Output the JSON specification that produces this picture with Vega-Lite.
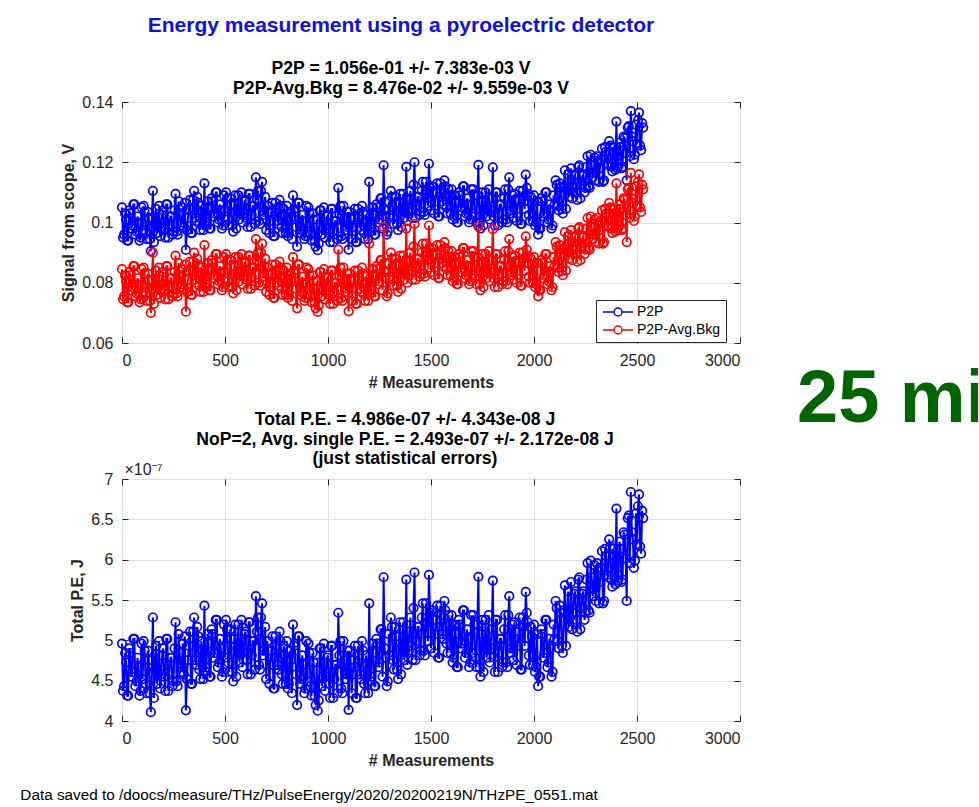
{
  "$schema": "https://vega.github.io/schema/vega-lite/v6.json",
  "background": "white",
  "padding": {"left": 20, "top": 14, "right": 0, "bottom": 2},
  "config": {
    "font": "Liberation Sans",
    "view": {"stroke": "#262626", "strokeWidth": 1},
    "axis": {
      "labelFont": "Liberation Sans", "labelFontSize": 16, "labelColor": "#262626",
      "titleFont": "Liberation Sans", "titleFontSize": 16, "titleFontWeight": "bold", "titleColor": "#262626",
      "tickColor": "#262626", "tickSize": -6, "tickWidth": 1, "labelPadding": 15,
      "domain": false, "gridColor": "#dfdfdf", "gridWidth": 1
    },
    "title": {"font": "Liberation Sans"}
  },
  "datasets": {
    "d": [
      {"m":0,"p":0.1050,"b":0.0845,"e":4.960e-7},
      {"m":10,"p":0.0960,"b":0.0755,"e":4.432e-7},
      {"m":20,"p":0.1010,"b":0.0805,"e":4.725e-7},
      {"m":30,"p":0.0940,"b":0.0735,"e":4.314e-7},
      {"m":40,"p":0.1030,"b":0.0825,"e":4.843e-7},
      {"m":50,"p":0.0990,"b":0.0785,"e":4.608e-7},
      {"m":60,"p":0.1060,"b":0.0855,"e":5.019e-7},
      {"m":70,"p":0.0970,"b":0.0765,"e":4.491e-7},
      {"m":80,"p":0.1000,"b":0.0795,"e":4.667e-7},
      {"m":90,"p":0.0950,"b":0.0745,"e":4.373e-7},
      {"m":100,"p":0.0975,"b":0.0770,"e":4.520e-7},
      {"m":110,"p":0.1035,"b":0.0830,"e":4.872e-7},
      {"m":120,"p":0.0945,"b":0.0740,"e":4.344e-7},
      {"m":130,"p":0.1015,"b":0.0810,"e":4.755e-7},
      {"m":140,"p":0.0905,"b":0.0700,"e":4.109e-7},
      {"m":150,"p":0.1105,"b":0.0900,"e":5.283e-7},
      {"m":160,"p":0.0995,"b":0.0790,"e":4.637e-7},
      {"m":170,"p":0.0965,"b":0.0760,"e":4.461e-7},
      {"m":180,"p":0.1055,"b":0.0850,"e":4.990e-7},
      {"m":190,"p":0.0985,"b":0.0780,"e":4.579e-7},
      {"m":200,"p":0.1040,"b":0.0835,"e":4.901e-7},
      {"m":210,"p":0.0950,"b":0.0745,"e":4.373e-7},
      {"m":220,"p":0.1060,"b":0.0855,"e":5.019e-7},
      {"m":230,"p":0.0990,"b":0.0785,"e":4.608e-7},
      {"m":240,"p":0.1020,"b":0.0815,"e":4.784e-7},
      {"m":250,"p":0.0970,"b":0.0765,"e":4.491e-7},
      {"m":260,"p":0.1095,"b":0.0890,"e":5.224e-7},
      {"m":270,"p":0.0960,"b":0.0755,"e":4.432e-7},
      {"m":280,"p":0.1030,"b":0.0825,"e":4.843e-7},
      {"m":290,"p":0.1000,"b":0.0795,"e":4.667e-7},
      {"m":300,"p":0.0985,"b":0.0780,"e":4.579e-7},
      {"m":310,"p":0.0909,"b":0.0704,"e":4.132e-7},
      {"m":320,"p":0.1015,"b":0.0810,"e":4.755e-7},
      {"m":330,"p":0.1075,"b":0.0870,"e":5.107e-7},
      {"m":340,"p":0.0965,"b":0.0760,"e":4.461e-7},
      {"m":350,"p":0.1105,"b":0.0900,"e":5.283e-7},
      {"m":360,"p":0.1005,"b":0.0800,"e":4.696e-7},
      {"m":370,"p":0.1065,"b":0.0860,"e":5.048e-7},
      {"m":380,"p":0.0975,"b":0.0770,"e":4.520e-7},
      {"m":390,"p":0.1035,"b":0.0830,"e":4.872e-7},
      {"m":400,"p":0.1130,"b":0.0925,"e":5.430e-7},
      {"m":410,"p":0.1000,"b":0.0795,"e":4.667e-7},
      {"m":420,"p":0.1050,"b":0.0845,"e":4.960e-7},
      {"m":430,"p":0.0980,"b":0.0775,"e":4.549e-7},
      {"m":440,"p":0.1070,"b":0.0865,"e":5.078e-7},
      {"m":450,"p":0.1030,"b":0.0825,"e":4.843e-7},
      {"m":460,"p":0.1100,"b":0.0895,"e":5.254e-7},
      {"m":470,"p":0.1010,"b":0.0805,"e":4.725e-7},
      {"m":480,"p":0.1040,"b":0.0835,"e":4.901e-7},
      {"m":490,"p":0.0990,"b":0.0785,"e":4.608e-7},
      {"m":500,"p":0.1020,"b":0.0815,"e":4.784e-7},
      {"m":510,"p":0.1080,"b":0.0875,"e":5.136e-7},
      {"m":520,"p":0.0990,"b":0.0785,"e":4.608e-7},
      {"m":530,"p":0.1060,"b":0.0855,"e":5.019e-7},
      {"m":540,"p":0.0970,"b":0.0765,"e":4.491e-7},
      {"m":550,"p":0.1090,"b":0.0885,"e":5.195e-7},
      {"m":560,"p":0.1040,"b":0.0835,"e":4.901e-7},
      {"m":570,"p":0.1010,"b":0.0805,"e":4.725e-7},
      {"m":580,"p":0.1100,"b":0.0895,"e":5.254e-7},
      {"m":590,"p":0.1030,"b":0.0825,"e":4.843e-7},
      {"m":600,"p":0.1075,"b":0.0870,"e":5.107e-7},
      {"m":610,"p":0.0985,"b":0.0780,"e":4.579e-7},
      {"m":620,"p":0.1095,"b":0.0890,"e":5.224e-7},
      {"m":630,"p":0.1025,"b":0.0820,"e":4.813e-7},
      {"m":640,"p":0.1055,"b":0.0850,"e":4.990e-7},
      {"m":650,"p":0.1150,"b":0.0945,"e":5.547e-7},
      {"m":660,"p":0.1105,"b":0.0900,"e":5.283e-7},
      {"m":670,"p":0.0995,"b":0.0790,"e":4.637e-7},
      {"m":680,"p":0.1135,"b":0.0930,"e":5.459e-7},
      {"m":690,"p":0.1035,"b":0.0830,"e":4.872e-7},
      {"m":700,"p":0.0975,"b":0.0770,"e":4.520e-7},
      {"m":710,"p":0.1035,"b":0.0830,"e":4.872e-7},
      {"m":720,"p":0.1005,"b":0.0800,"e":4.696e-7},
      {"m":730,"p":0.1065,"b":0.0860,"e":5.048e-7},
      {"m":740,"p":0.0955,"b":0.0750,"e":4.403e-7},
      {"m":750,"p":0.1045,"b":0.0840,"e":4.931e-7},
      {"m":760,"p":0.0995,"b":0.0790,"e":4.637e-7},
      {"m":770,"p":0.1055,"b":0.0850,"e":4.990e-7},
      {"m":780,"p":0.0965,"b":0.0760,"e":4.461e-7},
      {"m":790,"p":0.1025,"b":0.0820,"e":4.813e-7},
      {"m":800,"p":0.1055,"b":0.0850,"e":4.990e-7},
      {"m":810,"p":0.0965,"b":0.0760,"e":4.461e-7},
      {"m":820,"p":0.1015,"b":0.0810,"e":4.755e-7},
      {"m":830,"p":0.1090,"b":0.0885,"e":5.195e-7},
      {"m":840,"p":0.1035,"b":0.0830,"e":4.872e-7},
      {"m":850,"p":0.0920,"b":0.0715,"e":4.197e-7},
      {"m":860,"p":0.1065,"b":0.0860,"e":5.048e-7},
      {"m":870,"p":0.0975,"b":0.0770,"e":4.520e-7},
      {"m":880,"p":0.1005,"b":0.0800,"e":4.696e-7},
      {"m":890,"p":0.0955,"b":0.0750,"e":4.403e-7},
      {"m":900,"p":0.0970,"b":0.0765,"e":4.491e-7},
      {"m":910,"p":0.1030,"b":0.0825,"e":4.843e-7},
      {"m":920,"p":0.0940,"b":0.0735,"e":4.314e-7},
      {"m":930,"p":0.1010,"b":0.0805,"e":4.725e-7},
      {"m":940,"p":0.0920,"b":0.0715,"e":4.197e-7},
      {"m":950,"p":0.0908,"b":0.0703,"e":4.127e-7},
      {"m":960,"p":0.1040,"b":0.0835,"e":4.901e-7},
      {"m":970,"p":0.0960,"b":0.0755,"e":4.432e-7},
      {"m":980,"p":0.1050,"b":0.0845,"e":4.960e-7},
      {"m":990,"p":0.0980,"b":0.0775,"e":4.549e-7},
      {"m":1000,"p":0.1025,"b":0.0820,"e":4.813e-7},
      {"m":1010,"p":0.0935,"b":0.0730,"e":4.285e-7},
      {"m":1020,"p":0.1045,"b":0.0840,"e":4.931e-7},
      {"m":1030,"p":0.0975,"b":0.0770,"e":4.520e-7},
      {"m":1040,"p":0.1005,"b":0.0800,"e":4.696e-7},
      {"m":1050,"p":0.1115,"b":0.0910,"e":5.342e-7},
      {"m":1060,"p":0.1055,"b":0.0850,"e":4.990e-7},
      {"m":1070,"p":0.0945,"b":0.0740,"e":4.344e-7},
      {"m":1080,"p":0.1015,"b":0.0810,"e":4.755e-7},
      {"m":1090,"p":0.0985,"b":0.0780,"e":4.579e-7},
      {"m":1100,"p":0.0910,"b":0.0705,"e":4.138e-7},
      {"m":1110,"p":0.1015,"b":0.0810,"e":4.755e-7},
      {"m":1120,"p":0.0985,"b":0.0780,"e":4.579e-7},
      {"m":1130,"p":0.1045,"b":0.0840,"e":4.931e-7},
      {"m":1140,"p":0.0935,"b":0.0730,"e":4.285e-7},
      {"m":1150,"p":0.1025,"b":0.0820,"e":4.813e-7},
      {"m":1160,"p":0.0975,"b":0.0770,"e":4.520e-7},
      {"m":1170,"p":0.1035,"b":0.0830,"e":4.872e-7},
      {"m":1180,"p":0.0945,"b":0.0740,"e":4.344e-7},
      {"m":1190,"p":0.1005,"b":0.0800,"e":4.696e-7},
      {"m":1200,"p":0.1135,"b":0.0930,"e":5.459e-7},
      {"m":1210,"p":0.0980,"b":0.0775,"e":4.549e-7},
      {"m":1220,"p":0.1030,"b":0.0825,"e":4.843e-7},
      {"m":1230,"p":0.0960,"b":0.0755,"e":4.432e-7},
      {"m":1240,"p":0.1050,"b":0.0845,"e":4.960e-7},
      {"m":1250,"p":0.1010,"b":0.0805,"e":4.725e-7},
      {"m":1260,"p":0.1080,"b":0.0875,"e":5.136e-7},
      {"m":1270,"p":0.1190,"b":0.0985,"e":5.782e-7},
      {"m":1280,"p":0.1020,"b":0.0815,"e":4.784e-7},
      {"m":1290,"p":0.0970,"b":0.0765,"e":4.491e-7},
      {"m":1300,"p":0.1025,"b":0.0820,"e":4.813e-7},
      {"m":1310,"p":0.1085,"b":0.0880,"e":5.166e-7},
      {"m":1320,"p":0.0995,"b":0.0790,"e":4.637e-7},
      {"m":1330,"p":0.1065,"b":0.0860,"e":5.048e-7},
      {"m":1340,"p":0.0975,"b":0.0770,"e":4.520e-7},
      {"m":1350,"p":0.1095,"b":0.0890,"e":5.224e-7},
      {"m":1360,"p":0.1045,"b":0.0840,"e":4.931e-7},
      {"m":1370,"p":0.1015,"b":0.0810,"e":4.755e-7},
      {"m":1380,"p":0.1185,"b":0.0980,"e":5.753e-7},
      {"m":1390,"p":0.1035,"b":0.0830,"e":4.872e-7},
      {"m":1400,"p":0.1105,"b":0.0900,"e":5.283e-7},
      {"m":1410,"p":0.1015,"b":0.0810,"e":4.755e-7},
      {"m":1420,"p":0.1200,"b":0.0995,"e":5.841e-7},
      {"m":1430,"p":0.1055,"b":0.0850,"e":4.990e-7},
      {"m":1440,"p":0.1085,"b":0.0880,"e":5.166e-7},
      {"m":1450,"p":0.1035,"b":0.0830,"e":4.872e-7},
      {"m":1460,"p":0.1135,"b":0.0930,"e":5.459e-7},
      {"m":1470,"p":0.1025,"b":0.0820,"e":4.813e-7},
      {"m":1480,"p":0.1095,"b":0.0890,"e":5.224e-7},
      {"m":1490,"p":0.1195,"b":0.0990,"e":5.811e-7},
      {"m":1500,"p":0.1040,"b":0.0835,"e":4.901e-7},
      {"m":1510,"p":0.1100,"b":0.0895,"e":5.254e-7},
      {"m":1520,"p":0.1070,"b":0.0865,"e":5.078e-7},
      {"m":1530,"p":0.1130,"b":0.0925,"e":5.430e-7},
      {"m":1540,"p":0.1020,"b":0.0815,"e":4.784e-7},
      {"m":1550,"p":0.1110,"b":0.0905,"e":5.312e-7},
      {"m":1560,"p":0.1060,"b":0.0855,"e":5.019e-7},
      {"m":1570,"p":0.1120,"b":0.0915,"e":5.371e-7},
      {"m":1580,"p":0.1030,"b":0.0825,"e":4.843e-7},
      {"m":1590,"p":0.1090,"b":0.0885,"e":5.195e-7},
      {"m":1600,"p":0.1110,"b":0.0905,"e":5.312e-7},
      {"m":1610,"p":0.1020,"b":0.0815,"e":4.784e-7},
      {"m":1620,"p":0.1070,"b":0.0865,"e":5.078e-7},
      {"m":1630,"p":0.1000,"b":0.0795,"e":4.667e-7},
      {"m":1640,"p":0.1090,"b":0.0885,"e":5.195e-7},
      {"m":1650,"p":0.1050,"b":0.0845,"e":4.960e-7},
      {"m":1660,"p":0.1120,"b":0.0915,"e":5.371e-7},
      {"m":1670,"p":0.1030,"b":0.0825,"e":4.843e-7},
      {"m":1680,"p":0.1060,"b":0.0855,"e":5.019e-7},
      {"m":1690,"p":0.1010,"b":0.0805,"e":4.725e-7},
      {"m":1700,"p":0.1030,"b":0.0825,"e":4.843e-7},
      {"m":1710,"p":0.1090,"b":0.0885,"e":5.195e-7},
      {"m":1720,"p":0.1000,"b":0.0795,"e":4.667e-7},
      {"m":1730,"p":0.1191,"b":0.0986,"e":5.788e-7},
      {"m":1740,"p":0.0980,"b":0.0775,"e":4.549e-7},
      {"m":1750,"p":0.1100,"b":0.0895,"e":5.254e-7},
      {"m":1760,"p":0.1050,"b":0.0845,"e":4.960e-7},
      {"m":1770,"p":0.1020,"b":0.0815,"e":4.784e-7},
      {"m":1780,"p":0.1110,"b":0.0905,"e":5.312e-7},
      {"m":1790,"p":0.1040,"b":0.0835,"e":4.901e-7},
      {"m":1800,"p":0.1183,"b":0.0978,"e":5.741e-7},
      {"m":1810,"p":0.0990,"b":0.0785,"e":4.608e-7},
      {"m":1820,"p":0.1100,"b":0.0895,"e":5.254e-7},
      {"m":1830,"p":0.1030,"b":0.0825,"e":4.843e-7},
      {"m":1840,"p":0.1060,"b":0.0855,"e":5.019e-7},
      {"m":1850,"p":0.1010,"b":0.0805,"e":4.725e-7},
      {"m":1860,"p":0.1110,"b":0.0905,"e":5.312e-7},
      {"m":1870,"p":0.1000,"b":0.0795,"e":4.667e-7},
      {"m":1880,"p":0.1150,"b":0.0945,"e":5.547e-7},
      {"m":1890,"p":0.1040,"b":0.0835,"e":4.901e-7},
      {"m":1900,"p":0.1015,"b":0.0810,"e":4.755e-7},
      {"m":1910,"p":0.1075,"b":0.0870,"e":5.107e-7},
      {"m":1920,"p":0.1045,"b":0.0840,"e":4.931e-7},
      {"m":1930,"p":0.1105,"b":0.0900,"e":5.283e-7},
      {"m":1940,"p":0.0995,"b":0.0790,"e":4.637e-7},
      {"m":1950,"p":0.1085,"b":0.0880,"e":5.166e-7},
      {"m":1960,"p":0.1159,"b":0.0954,"e":5.600e-7},
      {"m":1970,"p":0.1095,"b":0.0890,"e":5.224e-7},
      {"m":1980,"p":0.1005,"b":0.0800,"e":4.696e-7},
      {"m":1990,"p":0.1065,"b":0.0860,"e":5.048e-7},
      {"m":2000,"p":0.1090,"b":0.0885,"e":5.195e-7},
      {"m":2010,"p":0.1000,"b":0.0795,"e":4.667e-7},
      {"m":2020,"p":0.0960,"b":0.0755,"e":4.432e-7},
      {"m":2030,"p":0.0980,"b":0.0775,"e":4.549e-7},
      {"m":2040,"p":0.1070,"b":0.0865,"e":5.078e-7},
      {"m":2050,"p":0.1030,"b":0.0825,"e":4.843e-7},
      {"m":2060,"p":0.1100,"b":0.0895,"e":5.254e-7},
      {"m":2070,"p":0.1010,"b":0.0805,"e":4.725e-7},
      {"m":2080,"p":0.1040,"b":0.0835,"e":4.901e-7},
      {"m":2090,"p":0.0990,"b":0.0785,"e":4.608e-7},
      {"m":2100,"p":0.1060,"b":0.0855,"e":5.019e-7},
      {"m":2110,"p":0.1125,"b":0.0920,"e":5.400e-7},
      {"m":2120,"p":0.1040,"b":0.0835,"e":4.901e-7},
      {"m":2130,"p":0.1115,"b":0.0910,"e":5.342e-7},
      {"m":2140,"p":0.1030,"b":0.0825,"e":4.843e-7},
      {"m":2150,"p":0.1173,"b":0.0968,"e":5.682e-7},
      {"m":2160,"p":0.1110,"b":0.0905,"e":5.312e-7},
      {"m":2170,"p":0.1085,"b":0.0880,"e":5.166e-7},
      {"m":2180,"p":0.1180,"b":0.0975,"e":5.723e-7},
      {"m":2190,"p":0.1115,"b":0.0910,"e":5.342e-7},
      {"m":2200,"p":0.1160,"b":0.0955,"e":5.606e-7},
      {"m":2210,"p":0.1075,"b":0.0870,"e":5.107e-7},
      {"m":2220,"p":0.1190,"b":0.0985,"e":5.782e-7},
      {"m":2230,"p":0.1125,"b":0.0920,"e":5.400e-7},
      {"m":2240,"p":0.1160,"b":0.0955,"e":5.606e-7},
      {"m":2250,"p":0.1115,"b":0.0910,"e":5.342e-7},
      {"m":2260,"p":0.1220,"b":0.1015,"e":5.958e-7},
      {"m":2270,"p":0.1115,"b":0.0910,"e":5.342e-7},
      {"m":2280,"p":0.1190,"b":0.0985,"e":5.782e-7},
      {"m":2290,"p":0.1165,"b":0.0960,"e":5.635e-7},
      {"m":2300,"p":0.1140,"b":0.0935,"e":5.488e-7},
      {"m":2310,"p":0.1205,"b":0.1000,"e":5.870e-7},
      {"m":2320,"p":0.1180,"b":0.0975,"e":5.723e-7},
      {"m":2330,"p":0.1245,"b":0.1040,"e":6.105e-7},
      {"m":2340,"p":0.1140,"b":0.0935,"e":5.488e-7},
      {"m":2350,"p":0.1235,"b":0.1030,"e":6.046e-7},
      {"m":2360,"p":0.1190,"b":0.0985,"e":5.782e-7},
      {"m":2370,"p":0.1255,"b":0.1050,"e":6.164e-7},
      {"m":2380,"p":0.1170,"b":0.0965,"e":5.665e-7},
      {"m":2390,"p":0.1235,"b":0.1030,"e":6.046e-7},
      {"m":2400,"p":0.1335,"b":0.1130,"e":6.633e-7},
      {"m":2410,"p":0.1195,"b":0.0990,"e":5.811e-7},
      {"m":2420,"p":0.1250,"b":0.1045,"e":6.134e-7},
      {"m":2430,"p":0.1185,"b":0.0980,"e":5.753e-7},
      {"m":2440,"p":0.1280,"b":0.1075,"e":6.310e-7},
      {"m":2450,"p":0.1140,"b":0.0935,"e":5.488e-7},
      {"m":2460,"p":0.1320,"b":0.1115,"e":6.545e-7},
      {"m":2470,"p":0.1370,"b":0.1165,"e":6.839e-7},
      {"m":2480,"p":0.1270,"b":0.1065,"e":6.252e-7},
      {"m":2490,"p":0.1225,"b":0.1020,"e":5.987e-7},
      {"m":2500,"p":0.1260,"b":0.1055,"e":6.193e-7},
      {"m":2510,"p":0.1365,"b":0.1160,"e":6.809e-7},
      {"m":2520,"p":0.1240,"b":0.1035,"e":6.075e-7},
      {"m":2530,"p":0.1315,"b":0.1110,"e":6.516e-7},
      {"m":5,"p":0.0950,"b":0.0745,"e":4.373e-7},
      {"m":15,"p":0.1030,"b":0.0825,"e":4.843e-7},
      {"m":25,"p":0.0940,"b":0.0735,"e":4.314e-7},
      {"m":35,"p":0.1040,"b":0.0835,"e":4.901e-7},
      {"m":45,"p":0.0980,"b":0.0775,"e":4.549e-7},
      {"m":55,"p":0.1060,"b":0.0855,"e":5.019e-7},
      {"m":65,"p":0.0960,"b":0.0755,"e":4.432e-7},
      {"m":75,"p":0.1020,"b":0.0815,"e":4.784e-7},
      {"m":85,"p":0.0940,"b":0.0735,"e":4.314e-7},
      {"m":95,"p":0.1050,"b":0.0845,"e":4.960e-7},
      {"m":105,"p":0.1055,"b":0.0850,"e":4.990e-7},
      {"m":115,"p":0.0965,"b":0.0760,"e":4.461e-7},
      {"m":125,"p":0.1035,"b":0.0830,"e":4.872e-7},
      {"m":135,"p":0.0945,"b":0.0740,"e":4.344e-7},
      {"m":145,"p":0.1015,"b":0.0810,"e":4.755e-7},
      {"m":155,"p":0.0935,"b":0.0730,"e":4.285e-7},
      {"m":165,"p":0.1045,"b":0.0840,"e":4.931e-7},
      {"m":175,"p":0.0985,"b":0.0780,"e":4.579e-7},
      {"m":185,"p":0.0955,"b":0.0750,"e":4.403e-7},
      {"m":195,"p":0.1025,"b":0.0820,"e":4.813e-7},
      {"m":205,"p":0.0980,"b":0.0775,"e":4.549e-7},
      {"m":215,"p":0.1060,"b":0.0855,"e":5.019e-7},
      {"m":225,"p":0.0950,"b":0.0745,"e":4.373e-7},
      {"m":235,"p":0.1020,"b":0.0815,"e":4.784e-7},
      {"m":245,"p":0.0960,"b":0.0755,"e":4.432e-7},
      {"m":255,"p":0.1040,"b":0.0835,"e":4.901e-7},
      {"m":265,"p":0.0970,"b":0.0765,"e":4.491e-7},
      {"m":275,"p":0.1070,"b":0.0865,"e":5.078e-7},
      {"m":285,"p":0.0990,"b":0.0785,"e":4.608e-7},
      {"m":295,"p":0.1050,"b":0.0845,"e":4.960e-7},
      {"m":305,"p":0.1065,"b":0.0860,"e":5.048e-7},
      {"m":315,"p":0.0975,"b":0.0770,"e":4.520e-7},
      {"m":325,"p":0.1045,"b":0.0840,"e":4.931e-7},
      {"m":335,"p":0.0965,"b":0.0760,"e":4.461e-7},
      {"m":345,"p":0.1075,"b":0.0870,"e":5.107e-7},
      {"m":355,"p":0.1015,"b":0.0810,"e":4.755e-7},
      {"m":365,"p":0.1085,"b":0.0880,"e":5.166e-7},
      {"m":375,"p":0.0995,"b":0.0790,"e":4.637e-7},
      {"m":385,"p":0.1055,"b":0.0850,"e":4.990e-7},
      {"m":395,"p":0.0975,"b":0.0770,"e":4.520e-7},
      {"m":405,"p":0.0990,"b":0.0785,"e":4.608e-7},
      {"m":415,"p":0.1070,"b":0.0865,"e":5.078e-7},
      {"m":425,"p":0.0980,"b":0.0775,"e":4.549e-7},
      {"m":435,"p":0.1080,"b":0.0875,"e":5.136e-7},
      {"m":445,"p":0.1020,"b":0.0815,"e":4.784e-7},
      {"m":455,"p":0.1100,"b":0.0895,"e":5.254e-7},
      {"m":465,"p":0.1000,"b":0.0795,"e":4.667e-7},
      {"m":475,"p":0.1060,"b":0.0855,"e":5.019e-7},
      {"m":485,"p":0.0980,"b":0.0775,"e":4.549e-7},
      {"m":495,"p":0.1090,"b":0.0885,"e":5.195e-7},
      {"m":505,"p":0.1100,"b":0.0895,"e":5.254e-7},
      {"m":515,"p":0.1010,"b":0.0805,"e":4.725e-7},
      {"m":525,"p":0.1080,"b":0.0875,"e":5.136e-7},
      {"m":535,"p":0.0990,"b":0.0785,"e":4.608e-7},
      {"m":545,"p":0.1060,"b":0.0855,"e":5.019e-7},
      {"m":555,"p":0.0980,"b":0.0775,"e":4.549e-7},
      {"m":565,"p":0.1090,"b":0.0885,"e":5.195e-7},
      {"m":575,"p":0.1030,"b":0.0825,"e":4.843e-7},
      {"m":585,"p":0.1000,"b":0.0795,"e":4.667e-7},
      {"m":595,"p":0.1070,"b":0.0865,"e":5.078e-7},
      {"m":605,"p":0.1015,"b":0.0810,"e":4.755e-7},
      {"m":615,"p":0.1095,"b":0.0890,"e":5.224e-7},
      {"m":625,"p":0.0985,"b":0.0780,"e":4.579e-7},
      {"m":635,"p":0.1055,"b":0.0850,"e":4.990e-7},
      {"m":645,"p":0.0995,"b":0.0790,"e":4.637e-7},
      {"m":655,"p":0.1075,"b":0.0870,"e":5.107e-7},
      {"m":665,"p":0.1005,"b":0.0800,"e":4.696e-7},
      {"m":675,"p":0.1105,"b":0.0900,"e":5.283e-7},
      {"m":685,"p":0.1025,"b":0.0820,"e":4.813e-7},
      {"m":695,"p":0.1085,"b":0.0880,"e":5.166e-7},
      {"m":705,"p":0.1055,"b":0.0850,"e":4.990e-7},
      {"m":715,"p":0.0965,"b":0.0760,"e":4.461e-7},
      {"m":725,"p":0.1035,"b":0.0830,"e":4.872e-7},
      {"m":735,"p":0.0955,"b":0.0750,"e":4.403e-7},
      {"m":745,"p":0.1065,"b":0.0860,"e":5.048e-7},
      {"m":755,"p":0.1005,"b":0.0800,"e":4.696e-7},
      {"m":765,"p":0.1075,"b":0.0870,"e":5.107e-7},
      {"m":775,"p":0.0985,"b":0.0780,"e":4.579e-7},
      {"m":785,"p":0.1045,"b":0.0840,"e":4.931e-7},
      {"m":795,"p":0.0965,"b":0.0760,"e":4.461e-7},
      {"m":805,"p":0.0955,"b":0.0750,"e":4.403e-7},
      {"m":815,"p":0.1035,"b":0.0830,"e":4.872e-7},
      {"m":825,"p":0.0945,"b":0.0740,"e":4.344e-7},
      {"m":835,"p":0.1045,"b":0.0840,"e":4.931e-7},
      {"m":845,"p":0.0985,"b":0.0780,"e":4.579e-7},
      {"m":855,"p":0.1065,"b":0.0860,"e":5.048e-7},
      {"m":865,"p":0.0965,"b":0.0760,"e":4.461e-7},
      {"m":875,"p":0.1025,"b":0.0820,"e":4.813e-7},
      {"m":885,"p":0.0945,"b":0.0740,"e":4.344e-7},
      {"m":895,"p":0.1055,"b":0.0850,"e":4.990e-7},
      {"m":905,"p":0.1050,"b":0.0845,"e":4.960e-7},
      {"m":915,"p":0.0960,"b":0.0755,"e":4.432e-7},
      {"m":925,"p":0.1030,"b":0.0825,"e":4.843e-7},
      {"m":935,"p":0.0940,"b":0.0735,"e":4.314e-7},
      {"m":945,"p":0.1010,"b":0.0805,"e":4.725e-7},
      {"m":955,"p":0.0930,"b":0.0725,"e":4.256e-7},
      {"m":965,"p":0.1040,"b":0.0835,"e":4.901e-7},
      {"m":975,"p":0.0980,"b":0.0775,"e":4.549e-7},
      {"m":985,"p":0.0950,"b":0.0745,"e":4.373e-7},
      {"m":995,"p":0.1020,"b":0.0815,"e":4.784e-7},
      {"m":1005,"p":0.0965,"b":0.0760,"e":4.461e-7},
      {"m":1015,"p":0.1045,"b":0.0840,"e":4.931e-7},
      {"m":1025,"p":0.0935,"b":0.0730,"e":4.285e-7},
      {"m":1035,"p":0.1005,"b":0.0800,"e":4.696e-7},
      {"m":1045,"p":0.0945,"b":0.0740,"e":4.344e-7},
      {"m":1055,"p":0.1025,"b":0.0820,"e":4.813e-7},
      {"m":1065,"p":0.0955,"b":0.0750,"e":4.403e-7},
      {"m":1075,"p":0.1055,"b":0.0850,"e":4.990e-7},
      {"m":1085,"p":0.0975,"b":0.0770,"e":4.520e-7},
      {"m":1095,"p":0.1035,"b":0.0830,"e":4.872e-7},
      {"m":1105,"p":0.1035,"b":0.0830,"e":4.872e-7},
      {"m":1115,"p":0.0945,"b":0.0740,"e":4.344e-7},
      {"m":1125,"p":0.1015,"b":0.0810,"e":4.755e-7},
      {"m":1135,"p":0.0935,"b":0.0730,"e":4.285e-7},
      {"m":1145,"p":0.1045,"b":0.0840,"e":4.931e-7},
      {"m":1155,"p":0.0985,"b":0.0780,"e":4.579e-7},
      {"m":1165,"p":0.1055,"b":0.0850,"e":4.990e-7},
      {"m":1175,"p":0.0965,"b":0.0760,"e":4.461e-7},
      {"m":1185,"p":0.1025,"b":0.0820,"e":4.813e-7},
      {"m":1195,"p":0.0945,"b":0.0740,"e":4.344e-7},
      {"m":1205,"p":0.0970,"b":0.0765,"e":4.491e-7},
      {"m":1215,"p":0.1050,"b":0.0845,"e":4.960e-7},
      {"m":1225,"p":0.0960,"b":0.0755,"e":4.432e-7},
      {"m":1235,"p":0.1060,"b":0.0855,"e":5.019e-7},
      {"m":1245,"p":0.1000,"b":0.0795,"e":4.667e-7},
      {"m":1255,"p":0.1080,"b":0.0875,"e":5.136e-7},
      {"m":1265,"p":0.0980,"b":0.0775,"e":4.549e-7},
      {"m":1275,"p":0.1040,"b":0.0835,"e":4.901e-7},
      {"m":1285,"p":0.0960,"b":0.0755,"e":4.432e-7},
      {"m":1295,"p":0.1070,"b":0.0865,"e":5.078e-7},
      {"m":1305,"p":0.1105,"b":0.0900,"e":5.283e-7},
      {"m":1315,"p":0.1015,"b":0.0810,"e":4.755e-7},
      {"m":1325,"p":0.1085,"b":0.0880,"e":5.166e-7},
      {"m":1335,"p":0.0995,"b":0.0790,"e":4.637e-7},
      {"m":1345,"p":0.1065,"b":0.0860,"e":5.048e-7},
      {"m":1355,"p":0.0985,"b":0.0780,"e":4.579e-7},
      {"m":1365,"p":0.1095,"b":0.0890,"e":5.224e-7},
      {"m":1375,"p":0.1035,"b":0.0830,"e":4.872e-7},
      {"m":1385,"p":0.1005,"b":0.0800,"e":4.696e-7},
      {"m":1395,"p":0.1075,"b":0.0870,"e":5.107e-7},
      {"m":1405,"p":0.1045,"b":0.0840,"e":4.931e-7},
      {"m":1415,"p":0.1125,"b":0.0920,"e":5.400e-7},
      {"m":1425,"p":0.1015,"b":0.0810,"e":4.755e-7},
      {"m":1435,"p":0.1085,"b":0.0880,"e":5.166e-7},
      {"m":1445,"p":0.1025,"b":0.0820,"e":4.813e-7},
      {"m":1455,"p":0.1105,"b":0.0900,"e":5.283e-7},
      {"m":1465,"p":0.1035,"b":0.0830,"e":4.872e-7},
      {"m":1475,"p":0.1135,"b":0.0930,"e":5.459e-7},
      {"m":1485,"p":0.1055,"b":0.0850,"e":4.990e-7},
      {"m":1495,"p":0.1115,"b":0.0910,"e":5.342e-7},
      {"m":1505,"p":0.1120,"b":0.0915,"e":5.371e-7},
      {"m":1515,"p":0.1030,"b":0.0825,"e":4.843e-7},
      {"m":1525,"p":0.1100,"b":0.0895,"e":5.254e-7},
      {"m":1535,"p":0.1020,"b":0.0815,"e":4.784e-7},
      {"m":1545,"p":0.1130,"b":0.0925,"e":5.430e-7},
      {"m":1555,"p":0.1070,"b":0.0865,"e":5.078e-7},
      {"m":1565,"p":0.1140,"b":0.0935,"e":5.488e-7},
      {"m":1575,"p":0.1050,"b":0.0845,"e":4.960e-7},
      {"m":1585,"p":0.1110,"b":0.0905,"e":5.312e-7},
      {"m":1595,"p":0.1030,"b":0.0825,"e":4.843e-7},
      {"m":1605,"p":0.1010,"b":0.0805,"e":4.725e-7},
      {"m":1615,"p":0.1090,"b":0.0885,"e":5.195e-7},
      {"m":1625,"p":0.1000,"b":0.0795,"e":4.667e-7},
      {"m":1635,"p":0.1100,"b":0.0895,"e":5.254e-7},
      {"m":1645,"p":0.1040,"b":0.0835,"e":4.901e-7},
      {"m":1655,"p":0.1120,"b":0.0915,"e":5.371e-7},
      {"m":1665,"p":0.1020,"b":0.0815,"e":4.784e-7},
      {"m":1675,"p":0.1080,"b":0.0875,"e":5.136e-7},
      {"m":1685,"p":0.1000,"b":0.0795,"e":4.667e-7},
      {"m":1695,"p":0.1110,"b":0.0905,"e":5.312e-7},
      {"m":1705,"p":0.1110,"b":0.0905,"e":5.312e-7},
      {"m":1715,"p":0.1020,"b":0.0815,"e":4.784e-7},
      {"m":1725,"p":0.1090,"b":0.0885,"e":5.195e-7},
      {"m":1735,"p":0.1000,"b":0.0795,"e":4.667e-7},
      {"m":1745,"p":0.1070,"b":0.0865,"e":5.078e-7},
      {"m":1755,"p":0.0990,"b":0.0785,"e":4.608e-7},
      {"m":1765,"p":0.1100,"b":0.0895,"e":5.254e-7},
      {"m":1775,"p":0.1040,"b":0.0835,"e":4.901e-7},
      {"m":1785,"p":0.1010,"b":0.0805,"e":4.725e-7},
      {"m":1795,"p":0.1080,"b":0.0875,"e":5.136e-7},
      {"m":1805,"p":0.1020,"b":0.0815,"e":4.784e-7},
      {"m":1815,"p":0.1100,"b":0.0895,"e":5.254e-7},
      {"m":1825,"p":0.0990,"b":0.0785,"e":4.608e-7},
      {"m":1835,"p":0.1060,"b":0.0855,"e":5.019e-7},
      {"m":1845,"p":0.1000,"b":0.0795,"e":4.667e-7},
      {"m":1855,"p":0.1080,"b":0.0875,"e":5.136e-7},
      {"m":1865,"p":0.1010,"b":0.0805,"e":4.725e-7},
      {"m":1875,"p":0.1110,"b":0.0905,"e":5.312e-7},
      {"m":1885,"p":0.1030,"b":0.0825,"e":4.843e-7},
      {"m":1895,"p":0.1090,"b":0.0885,"e":5.195e-7},
      {"m":1905,"p":0.1095,"b":0.0890,"e":5.224e-7},
      {"m":1915,"p":0.1005,"b":0.0800,"e":4.696e-7},
      {"m":1925,"p":0.1075,"b":0.0870,"e":5.107e-7},
      {"m":1935,"p":0.0995,"b":0.0790,"e":4.637e-7},
      {"m":1945,"p":0.1105,"b":0.0900,"e":5.283e-7},
      {"m":1955,"p":0.1045,"b":0.0840,"e":4.931e-7},
      {"m":1965,"p":0.1115,"b":0.0910,"e":5.342e-7},
      {"m":1975,"p":0.1025,"b":0.0820,"e":4.813e-7},
      {"m":1985,"p":0.1085,"b":0.0880,"e":5.166e-7},
      {"m":1995,"p":0.1005,"b":0.0800,"e":4.696e-7},
      {"m":2005,"p":0.0990,"b":0.0785,"e":4.608e-7},
      {"m":2015,"p":0.1070,"b":0.0865,"e":5.078e-7},
      {"m":2025,"p":0.0980,"b":0.0775,"e":4.549e-7},
      {"m":2035,"p":0.1080,"b":0.0875,"e":5.136e-7},
      {"m":2045,"p":0.1020,"b":0.0815,"e":4.784e-7},
      {"m":2055,"p":0.1100,"b":0.0895,"e":5.254e-7},
      {"m":2065,"p":0.1000,"b":0.0795,"e":4.667e-7},
      {"m":2075,"p":0.1060,"b":0.0855,"e":5.019e-7},
      {"m":2085,"p":0.0980,"b":0.0775,"e":4.549e-7},
      {"m":2095,"p":0.1090,"b":0.0885,"e":5.195e-7},
      {"m":2105,"p":0.1140,"b":0.0935,"e":5.488e-7},
      {"m":2115,"p":0.1055,"b":0.0850,"e":4.990e-7},
      {"m":2125,"p":0.1130,"b":0.0925,"e":5.430e-7},
      {"m":2135,"p":0.1045,"b":0.0840,"e":4.931e-7},
      {"m":2145,"p":0.1120,"b":0.0915,"e":5.371e-7},
      {"m":2155,"p":0.1045,"b":0.0840,"e":4.931e-7},
      {"m":2165,"p":0.1160,"b":0.0955,"e":5.606e-7},
      {"m":2175,"p":0.1105,"b":0.0900,"e":5.283e-7},
      {"m":2185,"p":0.1080,"b":0.0875,"e":5.136e-7},
      {"m":2195,"p":0.1155,"b":0.0950,"e":5.577e-7},
      {"m":2205,"p":0.1100,"b":0.0895,"e":5.254e-7},
      {"m":2215,"p":0.1185,"b":0.0980,"e":5.753e-7},
      {"m":2225,"p":0.1080,"b":0.0875,"e":5.136e-7},
      {"m":2235,"p":0.1155,"b":0.0950,"e":5.577e-7},
      {"m":2245,"p":0.1100,"b":0.0895,"e":5.254e-7},
      {"m":2255,"p":0.1185,"b":0.0980,"e":5.753e-7},
      {"m":2265,"p":0.1120,"b":0.0915,"e":5.371e-7},
      {"m":2275,"p":0.1225,"b":0.1020,"e":5.987e-7},
      {"m":2285,"p":0.1150,"b":0.0945,"e":5.547e-7},
      {"m":2295,"p":0.1215,"b":0.1010,"e":5.929e-7},
      {"m":2305,"p":0.1220,"b":0.1015,"e":5.958e-7},
      {"m":2315,"p":0.1135,"b":0.0930,"e":5.459e-7},
      {"m":2325,"p":0.1210,"b":0.1005,"e":5.899e-7},
      {"m":2335,"p":0.1135,"b":0.0930,"e":5.459e-7},
      {"m":2345,"p":0.1250,"b":0.1045,"e":6.134e-7},
      {"m":2355,"p":0.1195,"b":0.0990,"e":5.811e-7},
      {"m":2365,"p":0.1270,"b":0.1065,"e":6.252e-7},
      {"m":2375,"p":0.1185,"b":0.0980,"e":5.753e-7},
      {"m":2385,"p":0.1250,"b":0.1045,"e":6.134e-7},
      {"m":2395,"p":0.1175,"b":0.0970,"e":5.694e-7},
      {"m":2405,"p":0.1180,"b":0.0975,"e":5.723e-7},
      {"m":2415,"p":0.1265,"b":0.1060,"e":6.222e-7},
      {"m":2425,"p":0.1180,"b":0.0975,"e":5.723e-7},
      {"m":2435,"p":0.1285,"b":0.1080,"e":6.340e-7},
      {"m":2445,"p":0.1230,"b":0.1025,"e":6.017e-7},
      {"m":2455,"p":0.1315,"b":0.1110,"e":6.516e-7},
      {"m":2465,"p":0.1220,"b":0.1015,"e":5.958e-7},
      {"m":2475,"p":0.1285,"b":0.1080,"e":6.340e-7},
      {"m":2485,"p":0.1210,"b":0.1005,"e":5.899e-7},
      {"m":2495,"p":0.1325,"b":0.1120,"e":6.574e-7},
      {"m":2505,"p":0.1340,"b":0.1135,"e":6.662e-7},
      {"m":2515,"p":0.1255,"b":0.1050,"e":6.164e-7},
      {"m":2525,"p":0.1330,"b":0.1125,"e":6.604e-7}
    ]
  },
  "title": {
    "text": "Data saved to /doocs/measure/THz/PulseEnergy/2020/20200219N/THzPE_0551.mat",
    "orient": "bottom", "anchor": "start", "fontSize": 15.3, "fontWeight": "normal",
    "color": "black", "offset": 19, "dx": -40
  },
  "bounds": "flush",
  "spacing": 674,
  "hconcat": [
    {
      "bounds": "flush",
      "spacing": 136,
      "vconcat": [
        {
          "width": 618,
          "height": 241,
          "data": {"name": "d"},
          "title": {
            "text": "Energy measurement using a pyroelectric detector",
            "subtitle": ["P2P = 1.056e-01 +/- 7.383e-03 V", "P2P-Avg.Bkg = 8.476e-02 +/- 9.559e-03 V"],
            "color": "#1010e0", "fontSize": 21, "fontWeight": "bold",
            "subtitleColor": "black", "subtitleFontSize": 17.6, "subtitleFontWeight": "bold",
            "subtitleLineHeight": 20, "subtitlePadding": 24, "anchor": "middle", "offset": -4, "dx": -30
          },
          "layer": [
            {
              "mark": {"type": "line", "strokeWidth": 2, "point": {"filled": false, "size": 72, "strokeWidth": 1.7}},
              "encoding": {
                "x": {"field": "m", "type": "quantitative", "scale": {"domain": [0, 3000], "nice": false},
                      "axis": {"orient": "bottom", "title": "# Measurements", "values": [0, 500, 1000, 1500, 2000, 2500, 3000], "format": "d", "grid": true, "titlePadding": 6}},
                "y": {"field": "p", "type": "quantitative", "scale": {"domain": [0.06, 0.14], "nice": false, "zero": false},
                      "axis": {"orient": "left", "title": "Signal from scope, V", "values": [0.06, 0.08, 0.1, 0.12, 0.14], "format": ".4~g", "grid": true, "titlePadding": 5}},
                "color": {"datum": "P2P", "type": "nominal",
                  "scale": {"domain": ["P2P", "P2P-Avg.Bkg"], "range": ["#0000ff", "#ff0000"]},
                  "legend": {
                    "orient": "none", "legendX": 474, "legendY": 198, "title": null,
                    "symbolType": "M-3,0H-0.8M0.8,0H3M-0.8,0A0.8,0.8,0,1,1,0.8,0A0.8,0.8,0,1,1,-0.8,0",
                    "symbolSize": 100, "symbolStrokeWidth": 1.5, "symbolFillColor": "transparent", "symbolOffset": 10,
                    "labelOffset": 12, "labelFontSize": 14, "labelFont": "Liberation Sans", "labelColor": "black",
                    "padding": 5, "rowPadding": 4, "strokeColor": "#262626", "fillColor": "white", "cornerRadius": 0
                  }}
              }
            },
            {
              "mark": {"type": "line", "strokeWidth": 2, "point": {"filled": false, "size": 72, "strokeWidth": 1.7}},
              "encoding": {
                "x": {"field": "m", "type": "quantitative",
                      "axis": {"orient": "top", "title": null, "values": [0, 500, 1000, 1500, 2000, 2500, 3000], "labels": false, "grid": false}},
                "y": {"field": "b", "type": "quantitative",
                      "axis": {"orient": "right", "title": null, "values": [0.06, 0.08, 0.1, 0.12, 0.14], "labels": false, "grid": false}},
                "color": {"datum": "P2P-Avg.Bkg", "type": "nominal"}
              }
            }
          ]
        },
        {
          "width": 618,
          "height": 242,
          "data": {"name": "d"},
          "title": {
            "text": ["Total P.E. = 4.986e-07 +/- 4.343e-08 J", "NoP=2, Avg. single P.E. = 2.493e-07 +/- 2.172e-08 J", "(just statistical errors)"],
            "color": "black", "fontSize": 17.6, "fontWeight": "bold", "lineHeight": 19.6, "anchor": "middle", "offset": -7, "dx": -26
          },
          "layer": [
            {
              "mark": {"type": "line", "strokeWidth": 2, "color": "#0000ff"},
              "encoding": {
                "x": {"field": "m", "type": "quantitative", "scale": {"domain": [0, 3000], "nice": false},
                      "axis": {"orient": "bottom", "title": "# Measurements", "values": [0, 500, 1000, 1500, 2000, 2500, 3000], "format": "d", "grid": true, "titlePadding": 6}},
                "y": {"field": "e", "type": "quantitative", "scale": {"domain": [4e-7, 7e-7], "nice": false, "zero": false},
                      "axis": {"orient": "left", "title": "Total P.E, J", "values": [4e-7, 4.5e-7, 5e-7, 5.5e-7, 6e-7, 6.5e-7, 7e-7], "labelExpr": "format(datum.value * 1e7, '.2~f')", "grid": true, "titlePadding": 5}}
              }
            },
            {
              "mark": {"type": "point", "filled": false, "size": 72, "strokeWidth": 1.7, "color": "#0000ff", "opacity": 1},
              "encoding": {
                "x": {"field": "m", "type": "quantitative",
                      "axis": {"orient": "top", "title": "×10⁻⁷", "titleFontWeight": "normal", "titleFontSize": 16, "titleX": 2, "titleY": -5, "titleAlign": "left", "titleBaseline": "alphabetic", "titleAngle": 0, "values": [0, 500, 1000, 1500, 2000, 2500, 3000], "labels": false, "grid": false}},
                "y": {"field": "e", "type": "quantitative",
                      "axis": {"orient": "right", "title": null, "values": [4e-7, 4.5e-7, 5e-7, 5.5e-7, 6e-7, 6.5e-7, 7e-7], "labels": false, "grid": false}}
              }
            }
          ]
        }
      ]
    },
    {
      "width": 182,
      "height": 596,
      "view": {"stroke": null},
      "data": {"values": [{"t": "25 mi"}]},
      "mark": {"type": "text", "align": "left", "baseline": "middle", "dx": -90, "fontSize": 74, "fontWeight": "bold", "color": "#006400", "font": "Liberation Sans", "clip": true},
      "encoding": {"text": {"field": "t", "type": "nominal"}}
    }
  ]
}
